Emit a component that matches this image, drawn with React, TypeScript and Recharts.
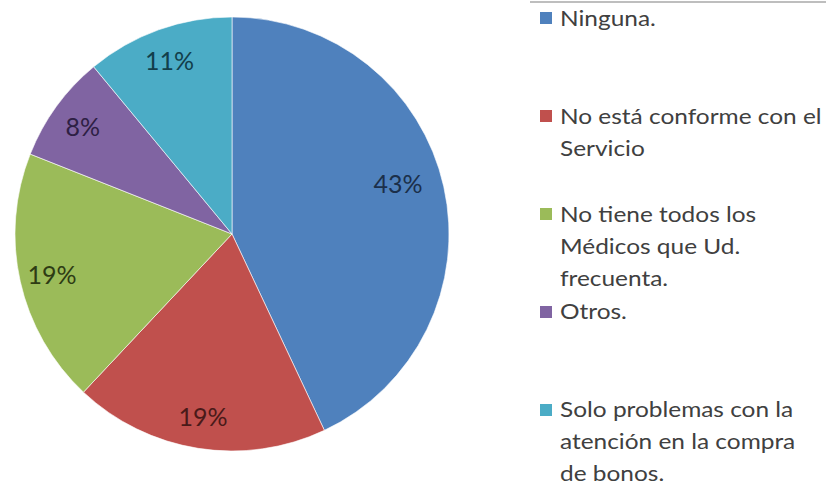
import React from "react";
import { PieChart, Pie, Cell, Legend } from "recharts";

const categories = [
  "Ninguna.",
  "No está conforme con el\nServicio",
  "No tiene todos los\nMédicos que Ud.\nfrecuenta.",
  "Otros.",
  "Solo problemas con la\natención en la compra\nde bonos.",
];
const percentages = [43, 19, 19, 8, 11];
const sliceColors = ["#4F81BD", "#C0504D", "#9BBB59", "#8064A2", "#4BACC6"];
const labelColors = ["#1B2F4A", "#4A1A19", "#2E3B14", "#2E1F44", "#123F4B"];

const data = categories.map((name, i) => ({ name, value: percentages[i] }));

const RAD = Math.PI / 180;
const FONT = "Lato, 'Open Sans', sans-serif";
const LABEL_RADIUS = [0.8, 0.85, 0.85, 0.85, 0.85];
const LABEL_ANGLE_SHIFT = [4.5, 0, 0, 0, 0];

const renderLabel = (props: any) => {
  const { cx, cy, midAngle, outerRadius, value, index } = props;
  const r = outerRadius * LABEL_RADIUS[index];
  const a = (midAngle + LABEL_ANGLE_SHIFT[index]) * RAD;
  const x = cx + r * Math.cos(-a);
  const y = cy + r * Math.sin(-a);
  return (
    <text
      x={x}
      y={y}
      fill={labelColors[index]}
      textAnchor="middle"
      dominantBaseline="central"
      fontFamily={FONT}
      fontSize={25}
    >
      {`${value}%`}
    </text>
  );
};

const renderLegend = (props: any) => {
  const { payload } = props;
  return (
    <div style={{ position: "relative", width: 296, height: 486, fontFamily: FONT }}>
      <div style={{ position: "absolute", left: 0, top: 1, width: 296, height: 2, background: "#BEBEBE" }} />
      {(payload || []).map((entry: any, i: number) => (
        <div
          key={i}
          style={{
            position: "absolute",
            left: 10,
            top: 5.9 + i * 97.8,
            display: "flex",
            alignItems: "flex-start",
          }}
        >
          <div
            style={{
              width: 12,
              height: 12,
              marginTop: 6.6,
              marginRight: 8,
              background: sliceColors[i],
            }}
          />
          <div
            style={{
              fontSize: 22,
              color: "#404040",
              transform: "scaleX(1.11)",
              transformOrigin: "left center",
            }}
          >
            {categories[i].split("\n").map((line, j, arr) => (
              <div
                key={j}
                style={{
                  whiteSpace: "pre",
                  height: 24,
                  lineHeight: "24px",
                  marginBottom: j < arr.length - 1 ? 8 : 0,
                }}
              >
                {line}
              </div>
            ))}
          </div>
        </div>
      ))}
    </div>
  );
};

export default function App() {
  return (
    <div style={{ position: "absolute", left: 0, top: 0, width: 826, height: 486, background: "#fff" }}>
      <PieChart width={826} height={486} margin={{ top: 0, right: 0, bottom: 0, left: 0 }}>
        <Pie
          data={data}
          dataKey="value"
          nameKey="name"
          cx={232}
          cy={234}
          outerRadius={217}
          startAngle={90}
          endAngle={-270}
          stroke="#ffffff"
          strokeWidth={0.6}
          label={renderLabel}
          labelLine={false}
          isAnimationActive={false}
        >
          {data.map((_, i) => (
            <Cell key={i} fill={sliceColors[i]} />
          ))}
        </Pie>
        <Legend
          layout="vertical"
          align="right"
          verticalAlign="top"
          content={renderLegend}
          wrapperStyle={{ left: 530, top: 0, width: 296, height: 486 }}
        />
      </PieChart>
    </div>
  );
}
